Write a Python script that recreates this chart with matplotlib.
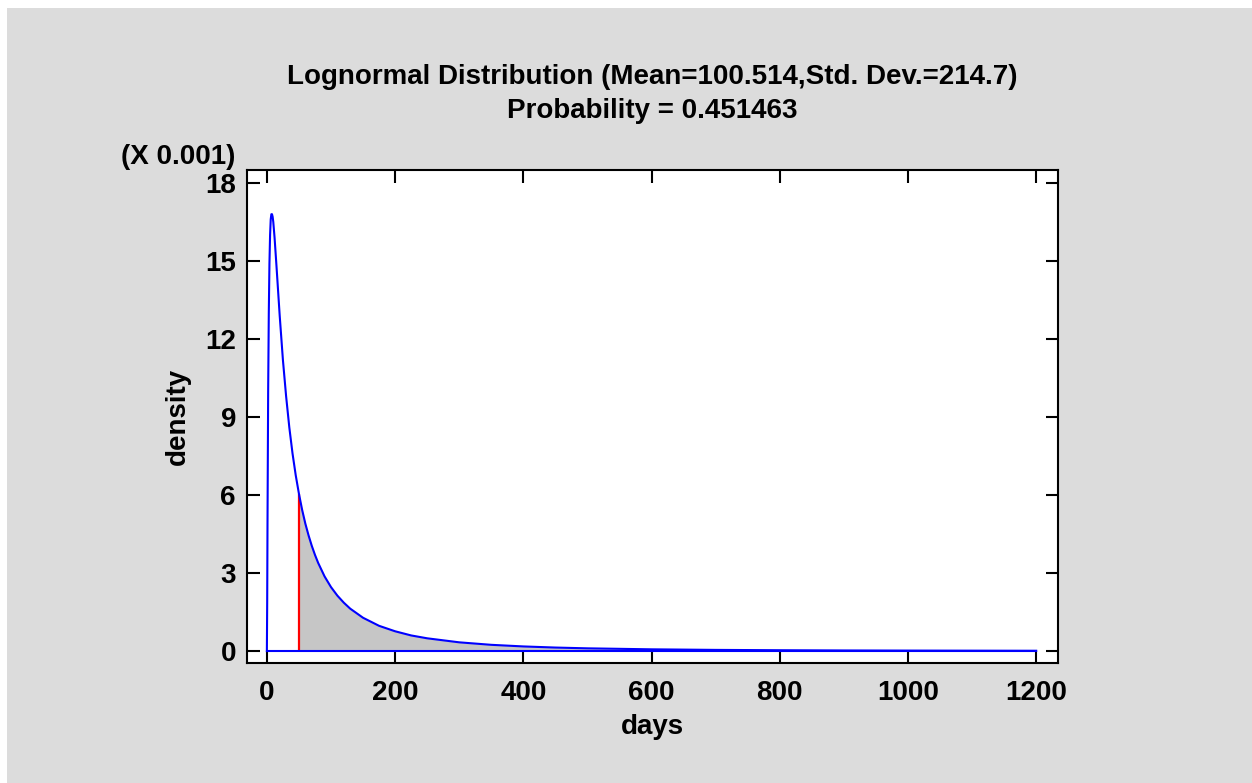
import matplotlib.pyplot as plt
from matplotlib.patches import Rectangle

plt.rcParams['font.family'] = ['Liberation Sans', 'DejaVu Sans']
plt.rcParams['font.weight'] = 'bold'

# density curve (y in units of 0.001)
days = [0, 0.5, 1, 2, 3, 4, 5, 6, 7, 8, 9, 10, 12, 15, 20, 25, 30, 35, 40, 45,
        50, 55, 60, 65, 70, 75, 80, 90, 100, 110, 120, 130, 150, 175, 200, 225,
        250, 300, 350, 400, 450, 500, 600, 700, 800, 900, 1000, 1200]
density = [0, 1.9, 5.0, 10.0, 13.0, 14.9, 16.0, 16.6, 16.8, 16.8, 16.7, 16.5,
           15.9, 14.8, 12.9, 11.2, 9.8, 8.6, 7.6, 6.76,
           6.05, 5.43, 4.9, 4.45, 4.05, 3.70, 3.39, 2.87, 2.46, 2.13, 1.86,
           1.63, 1.28, 0.97, 0.76, 0.60,
           0.49, 0.335, 0.239, 0.177, 0.134, 0.104, 0.066, 0.044, 0.031,
           0.022, 0.017, 0.010]
cutoff = 50
title = 'Lognormal Distribution (Mean=100.514,Std. Dev.=214.7)\nProbability = 0.451463'
xticks = [0, 200, 400, 600, 800, 1000, 1200]
yticks = [0, 3, 6, 9, 12, 15, 18]

fig = plt.figure(figsize=(12.52, 7.83), dpi=100)
fig.patch.set_facecolor('white')
fig.patches.append(Rectangle((7 / 1252, 0), 1, 1 - 8 / 783, transform=fig.transFigure,
                             facecolor='#dcdcdc', edgecolor='none', zorder=-5))

ax = fig.add_axes([247 / 1252, 1 - 663 / 783, (1058 - 247) / 1252, (663 - 170) / 783])
ax.set_facecolor('white')

# shaded tail
tail_x = [d for d in days if d >= cutoff]
tail_y = [v for d, v in zip(days, density) if d >= cutoff]
ax.fill_between(tail_x, 0, tail_y, color='#c6c6c6', lw=0)
ax.vlines(cutoff, 0, density[days.index(cutoff)], color='red', lw=1.6, zorder=3)

ax.plot(days, density, color='blue', lw=1.5, zorder=4)
ax.plot([days[0], days[-1]], [0, 0], color='blue', lw=1.5, zorder=4)

ax.set_xlim(-31, 1234)
ax.set_ylim(-0.46, 18.5)
ax.set_xticks(xticks)
ax.set_yticks(yticks)
ax.tick_params(direction='in', length=9, width=1.5, top=True, right=True,
               labelsize=20, pad=8)
ax.tick_params(axis='x', pad=12)
for s in ax.spines.values():
    s.set_linewidth(1.5)

ax.set_xlabel('days', fontsize=20, fontweight='bold', labelpad=6)
ax.set_ylabel('density', fontsize=20, fontweight='bold', labelpad=10)
fig.text(652 / 1252, 1 - 94 / 783, title, ha='center', va='center', fontsize=20,
         fontweight='bold', linespacing=1.4)
fig.text(235 / 1252, 1 - 157 / 783, '(X 0.001)', ha='right', va='center',
         fontsize=20, fontweight='bold')

fig.savefig('out.png', dpi=100)
